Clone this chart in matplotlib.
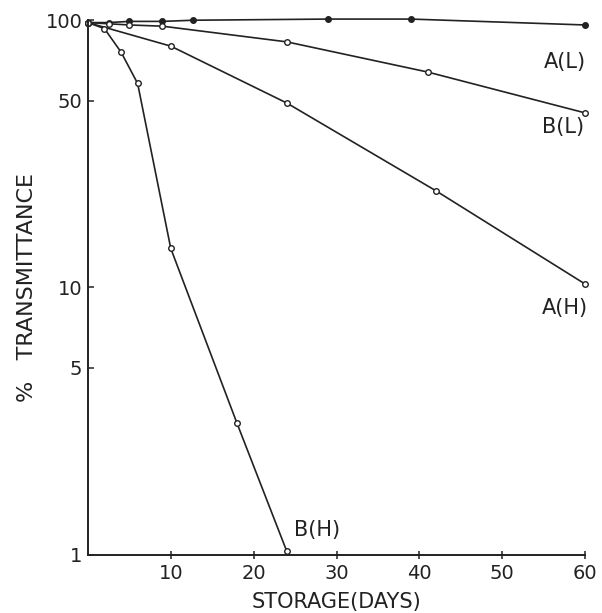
'''storage vs % transmittance, semilog
'''
import matplotlib
matplotlib.use("Agg")
import matplotlib.pyplot as plt
from matplotlib.ticker import FixedLocator, NullLocator

plt.rcParams['font.family'] = ['DejaVu Sans']

# values
a_l_days = [0, 2.5, 5, 9, 12.7, 29, 39, 60]
a_l_pct = [98, 98, 99, 99, 100, 101, 101, 96]

b_l_days = [0, 2.5, 5, 9, 24, 41, 60]
b_l_pct = [98, 97, 96, 95, 83, 64, 45]

a_h_days = [0, 10, 24, 42, 60]
a_h_pct = [98, 80, 49, 23, 10.3]

b_h_days = [0, 2, 4, 6, 10, 18, 24]
b_h_pct = [98, 93, 76, 58, 14, 3.1, 1.03]

x_ticks = [10, 20, 30, 40, 50, 60]
y_ticks = [1, 5, 10, 50, 100]
y_tick_labels = ['1', '5', '10', '50', '100']

INK = '#222222'

fig = plt.figure(figsize=(6.02, 6.13), dpi=100)
ax = fig.add_axes([0.146, 0.095, 0.826, 0.872])

line_kw = dict(color=INK, lw=1.2, ms=4, mew=1.0, clip_on=False)
ax.plot(a_l_days, a_l_pct, marker='o', mfc=INK, **line_kw)
ax.plot(b_l_days, b_l_pct, marker='o', mfc='white', **line_kw)
ax.plot(a_h_days, a_h_pct, marker='o', mfc='white', **line_kw)
ax.plot(b_h_days, b_h_pct, marker='o', mfc='white', **line_kw)

ax.set_yscale('log')
ax.set_xlim(0, 60)
ax.set_ylim(1, 100)
ax.xaxis.set_major_locator(FixedLocator(x_ticks))
ax.yaxis.set_major_locator(FixedLocator(y_ticks))
ax.yaxis.set_minor_locator(NullLocator())
ax.set_yticklabels(y_tick_labels)

for side in ['top', 'right']:
    ax.spines[side].set_visible(False)
for side in ['left', 'bottom']:
    ax.spines[side].set_linewidth(1.4)
    ax.spines[side].set_color(INK)
ax.tick_params(axis='x', direction='inout', length=6, width=1.1, colors=INK,
               labelsize=14, pad=4)
ax.tick_params(axis='y', direction='in', length=4, width=1.1, colors=INK,
               labelsize=14, pad=4)

lab_kw = dict(ha='center', va='center', fontsize=15, color=INK)
ax.text(57.5, 70, 'A(L)', **lab_kw)
ax.text(57.3, 39.7, 'B(L)', **lab_kw)
ax.text(57.6, 8.4, 'A(H)', **lab_kw)
ax.text(27.7, 1.24, 'B(H)', **lab_kw)

ax.set_xlabel('STORAGE(DAYS)', fontsize=15, color=INK, labelpad=6)
ax.set_ylabel('%   TRANSMITTANCE', fontsize=16, color=INK, labelpad=6)

plt.savefig('out.png', dpi=100)
